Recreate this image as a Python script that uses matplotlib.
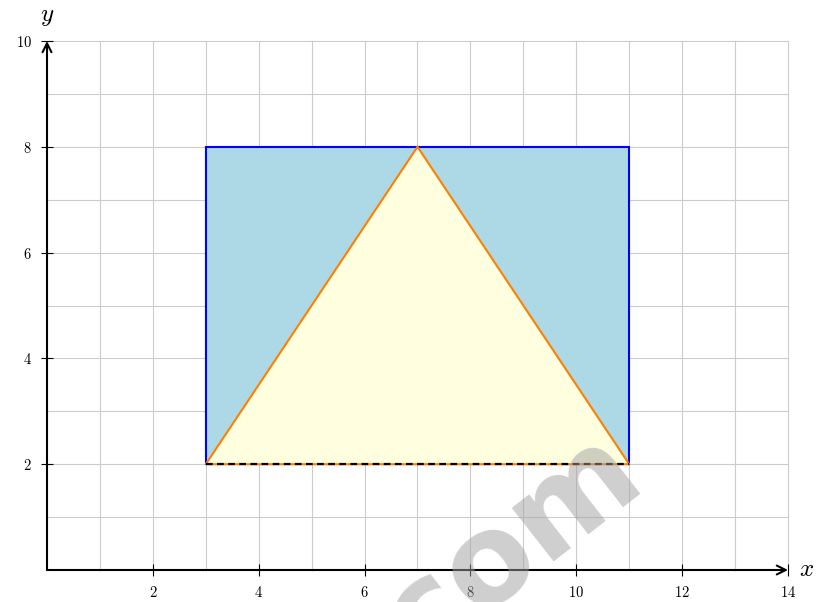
import matplotlib.pyplot as plt

# shapes
rect_x = [3, 11, 11, 3]
rect_y = [2, 2, 8, 8]
tri_x = [3, 7, 11]
tri_y = [2, 8, 2]
base_x = [3, 11]
base_y = [2, 2]

x_ticks = [2, 4, 6, 8, 10, 12, 14]
y_ticks = [2, 4, 6, 8, 10]

plt.rcParams['mathtext.fontset'] = 'cm'
plt.rcParams['font.family'] = 'serif'

fig = plt.figure(figsize=(8.16, 6.02), dpi=100)
ax = fig.add_axes([47 / 816, 32 / 602, 741 / 816, 529 / 602])
ax.set_xlim(0, 14)
ax.set_ylim(0, 10)

# grid
for gx in range(1, 15):
    ax.plot([gx, gx], [0, 10], color='#cccccc', lw=0.8, zorder=1, clip_on=False)
for gy in range(1, 11):
    ax.plot([0, 14], [gy, gy], color='#cccccc', lw=0.8, zorder=1, clip_on=False)

ax.fill(rect_x, rect_y, facecolor='#add8e6', edgecolor='blue', lw=1.5, zorder=2)
ax.fill(tri_x, tri_y, facecolor='#ffffe0', edgecolor='#ff8000', lw=1.5, zorder=3)
ax.plot(base_x, base_y, color='black', lw=1.6, ls=(0, (3, 2)), zorder=4)

for s in ax.spines.values():
    s.set_visible(False)

# axes with arrows
ax.annotate('', xy=(14, 0), xytext=(0, 0), annotation_clip=False,
            arrowprops=dict(arrowstyle='->', lw=1.5, color='black',
                            shrinkA=0, shrinkB=0, mutation_scale=16), zorder=5)
ax.annotate('', xy=(0, 10), xytext=(0, 0), annotation_clip=False,
            arrowprops=dict(arrowstyle='->', lw=1.5, color='black',
                            shrinkA=0, shrinkB=0, mutation_scale=16), zorder=5)

ax.set_xticks(x_ticks)
ax.set_yticks(y_ticks)
ax.set_xticklabels(['$%d$' % t for t in x_ticks], fontsize=10.5)
ax.set_yticklabels(['$%d$' % t for t in y_ticks], fontsize=10.5)
ax.tick_params(direction='inout', length=8, width=0.8, pad=7)

ax.text(14.2, 0, '$x$', fontsize=18, va='center', ha='left')
ax.text(0, 10.25, '$y$', fontsize=18, va='bottom', ha='center')

# watermark
fig.text(492 / 816, 1 - 556 / 602, '.com', fontsize=90, fontweight='bold',
         family='DejaVu Sans', color='#a0a0a0', alpha=0.5, rotation=38,
         ha='center', va='center', rotation_mode='anchor', zorder=10)

fig.savefig('out.png', dpi=100)
